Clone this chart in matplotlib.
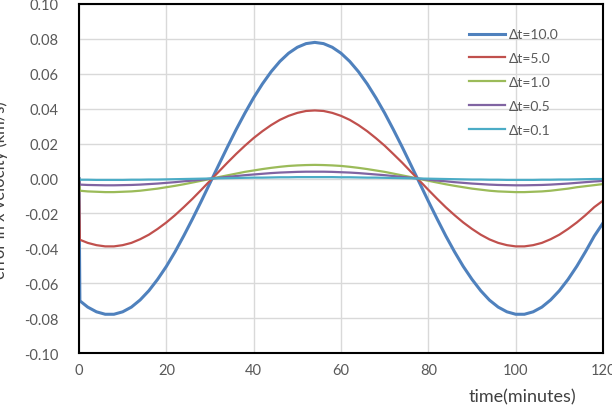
import matplotlib.pyplot as plt

plt.rcParams['font.family'] = ['Lato', 'DejaVu Sans']

# --- Data, minutes ---
time = [0, 0.2] + list(range(2, 121, 2))

err_10 = [0, -0.0701, -0.0737, -0.0764, -0.0778, -0.0778, -0.0764, -0.0737, -0.0696,
          -0.0643, -0.0578, -0.0504, -0.0420, -0.0328, -0.0231, -0.0130, -0.0026,
          0.0078, 0.0181, 0.0281, 0.0375, 0.0463, 0.0542, 0.0612, 0.0671, 0.0718,
          0.0752, 0.0773, 0.0780, 0.0773, 0.0752, 0.0718, 0.0671, 0.0612, 0.0542,
          0.0462, 0.0375, 0.0280, 0.0181, 0.0078, -0.0026, -0.0130, -0.0231,
          -0.0329, -0.0420, -0.0504, -0.0578, -0.0643, -0.0697, -0.0737, -0.0764,
          -0.0778, -0.0778, -0.0764, -0.0737, -0.0696, -0.0643, -0.0578, -0.0503,
          -0.0419, -0.0330, -0.0255]
err_5 = [0, -0.0351, -0.0369, -0.0382, -0.0389, -0.0389, -0.0382, -0.0369, -0.0348,
         -0.0322, -0.0289, -0.0252, -0.0210, -0.0164, -0.0116, -0.0065, -0.0013,
         0.0039, 0.0091, 0.0141, 0.0188, 0.0232, 0.0271, 0.0306, 0.0336, 0.0359,
         0.0376, 0.0387, 0.0390, 0.0387, 0.0376, 0.0359, 0.0336, 0.0306, 0.0271,
         0.0231, 0.0188, 0.0140, 0.0091, 0.0039, -0.0013, -0.0065, -0.0116,
         -0.0165, -0.0210, -0.0252, -0.0289, -0.0322, -0.0349, -0.0369, -0.0382,
         -0.0389, -0.0389, -0.0382, -0.0369, -0.0348, -0.0322, -0.0289, -0.0252,
         -0.0210, -0.0164, -0.0127]
err_1 = [0, -0.0070, -0.0074, -0.0076, -0.0078, -0.0078, -0.0076, -0.0074, -0.0070,
         -0.0064, -0.0058, -0.0050, -0.0042, -0.0033, -0.0023, -0.0013, -0.0003,
         0.0008, 0.0018, 0.0028, 0.0038, 0.0046, 0.0054, 0.0061, 0.0067, 0.0072,
         0.0075, 0.0077, 0.0078, 0.0077, 0.0075, 0.0072, 0.0067, 0.0061, 0.0054,
         0.0046, 0.0038, 0.0028, 0.0018, 0.0008, -0.0003, -0.0013, -0.0023,
         -0.0033, -0.0042, -0.0050, -0.0058, -0.0064, -0.0070, -0.0074, -0.0076,
         -0.0078, -0.0078, -0.0076, -0.0074, -0.0070, -0.0064, -0.0058, -0.0050,
         -0.0044, -0.0038, -0.0032]
err_05 = [0, -0.0035, -0.0037, -0.0038, -0.0039, -0.0039, -0.0038, -0.0037, -0.0035,
          -0.0032, -0.0029, -0.0025, -0.0021, -0.0016, -0.0012, -0.0007, -0.0001,
          0.0004, 0.0009, 0.0014, 0.0019, 0.0023, 0.0027, 0.0031, 0.0034, 0.0036,
          0.0038, 0.0039, 0.0039, 0.0039, 0.0038, 0.0036, 0.0034, 0.0031, 0.0027,
          0.0023, 0.0019, 0.0014, 0.0009, 0.0004, -0.0001, -0.0007, -0.0012,
          -0.0016, -0.0021, -0.0025, -0.0029, -0.0032, -0.0035, -0.0037, -0.0038,
          -0.0039, -0.0039, -0.0038, -0.0037, -0.0035, -0.0032, -0.0029, -0.0025,
          -0.0021, -0.0017, -0.0014]
err_01 = [0, -0.0007, -0.0007, -0.0008, -0.0008, -0.0008, -0.0008, -0.0007, -0.0007,
          -0.0006, -0.0006, -0.0005, -0.0004, -0.0003, -0.0002, -0.0001, 0.0000,
          0.0001, 0.0002, 0.0003, 0.0004, 0.0005, 0.0005, 0.0006, 0.0007, 0.0007,
          0.0008, 0.0008, 0.0008, 0.0008, 0.0008, 0.0007, 0.0007, 0.0006, 0.0005,
          0.0005, 0.0004, 0.0003, 0.0002, 0.0001, 0.0000, -0.0001, -0.0002,
          -0.0003, -0.0004, -0.0005, -0.0006, -0.0006, -0.0007, -0.0007, -0.0008,
          -0.0008, -0.0008, -0.0008, -0.0007, -0.0007, -0.0006, -0.0006, -0.0005,
          -0.0004, -0.0003, -0.0003]

labels = ['\u0394t=10.0', '\u0394t=5.0', '\u0394t=1.0', '\u0394t=0.5', '\u0394t=0.1']
series = [err_10, err_5, err_1, err_05, err_01]
colors = ['#4F81BD', '#C0504D', '#9BBB59', '#8064A2', '#4BACC6']
widths = [2.2, 1.6, 1.6, 1.6, 1.6]

xticks = [0, 20, 40, 60, 80, 100, 120]
yticks = [-0.10, -0.08, -0.06, -0.04, -0.02, 0.00, 0.02, 0.04, 0.06, 0.08, 0.10]

# --- Figure ---
fig = plt.figure(figsize=(6.12, 4.14), dpi=100)
ax = fig.add_axes([79 / 612, 1 - 354 / 414, 524 / 612, 349 / 414])

for vals, lab, col, lw in zip(series, labels, colors, widths):
    ax.plot(time, vals, color=col, lw=lw, label=lab)

ax.set_xlim(0, 120)
ax.set_ylim(-0.10, 0.10)
ax.set_xticks(xticks)
ax.set_yticks(yticks)
ax.set_yticklabels(['%.2f' % v for v in yticks])
ax.grid(True, color='#D9D9D9', lw=1.0)
ax.set_axisbelow(True)
ax.tick_params(length=0, labelsize=10.5, labelcolor='#595959')
ax.tick_params(axis='y', pad=15)
ax.tick_params(axis='x', pad=7)
for sp in ax.spines.values():
    sp.set_color('black')
    sp.set_linewidth(1.5)

ax.set_ylabel('error in x velocity (km/s)', fontsize=12, color='#404040')
ax.yaxis.set_label_coords(-0.136, 0.47)
ax.set_xlabel('time(minutes)', fontsize=13, color='#404040')
ax.xaxis.set_label_coords(0.846, -0.10)

ax.legend(loc='upper left', bbox_to_anchor=(0.745, 0.93), frameon=False,
          fontsize=10, handlelength=2.6, handletextpad=0.25,
          labelspacing=0.85, borderpad=0, borderaxespad=0,
          labelcolor='#595959')

fig.savefig('out.png', dpi=100)
